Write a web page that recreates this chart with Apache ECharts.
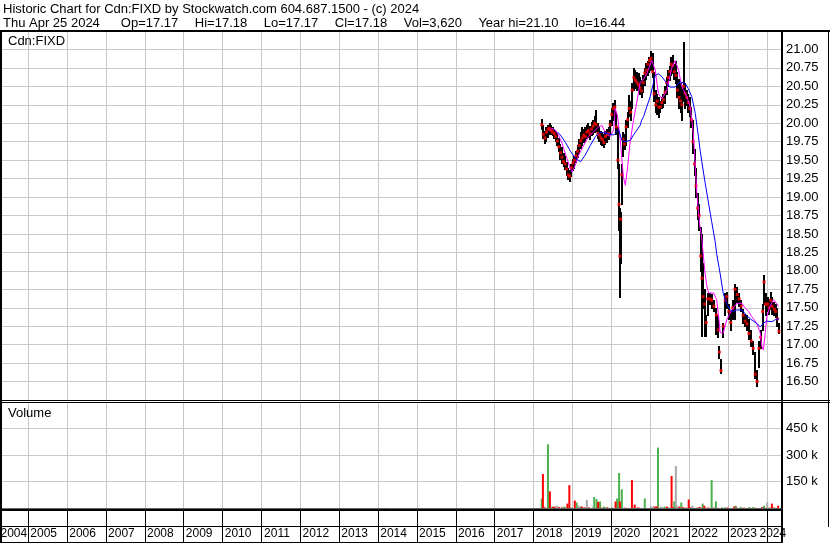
<!DOCTYPE html>
<html><head><meta charset="utf-8">
<script src="https://cdn.jsdelivr.net/npm/echarts@6/dist/echarts.min.js"></script>
<style>html,body{margin:0;padding:0;background:#fff}#c{width:830px;height:543px}</style>
</head><body><div id="c"></div>
<script>
// ---------- DATA ----------
const headerLine1 = 'Historic Chart for Cdn:FIXD by Stockwatch.com 604.687.1500 - (c) 2024';
const headerItems = ['Thu Apr 25 2024', 'Op=17.17', 'Hi=17.18', 'Lo=17.17', 'Cl=17.18', 'Vol=3,620', 'Year hi=21.10', 'lo=16.44'];
const symbolLabel = 'Cdn:FIXD';
const volumeLabel = 'Volume';
const yearLabels = ['2004','2005','2006','2007','2008','2009','2010','2011','2012','2013','2014','2015','2016','2017','2018','2019','2020','2021','2022','2023','2024'];

// price bars (decimal year, high, low, close)
const barYears = [2018.21,2018.25,2018.29,2018.33,2018.37,2018.41,2018.45,2018.49,2018.53,2018.57,2018.61,2018.65,2018.69,2018.73,2018.77,2018.81,2018.85,2018.89,2018.93,2018.97,
2019.01,2019.05,2019.09,2019.13,2019.17,2019.21,2019.25,2019.29,2019.33,2019.37,2019.41,2019.45,2019.49,2019.53,2019.57,2019.61,2019.65,2019.69,2019.73,2019.77,2019.81,2019.85,2019.89,2019.93,2019.97,
2020.01,2020.05,2020.09,2020.13,2020.17,2020.20,2020.22,2020.24,2020.27,2020.30,2020.34,2020.38,2020.42,2020.46,2020.50,2020.54,2020.58,2020.62,2020.66,2020.70,2020.74,2020.78,2020.82,2020.86,2020.90,2020.94,2020.98,
2021.02,2021.06,2021.10,2021.14,2021.18,2021.22,2021.26,2021.30,2021.34,2021.38,2021.42,2021.46,2021.50,2021.54,2021.58,2021.62,2021.66,2021.70,2021.74,2021.78,2021.82,2021.86,2021.90,2021.94,2021.98,
2022.02,2022.06,2022.10,2022.14,2022.18,2022.22,2022.26,2022.30,2022.33,2022.36,2022.40,2022.44,2022.48,2022.54,2022.58,2022.64,2022.70,2022.75,2022.78,2022.82,2022.88,2022.93,2022.97,
2023.02,2023.07,2023.12,2023.18,2023.24,2023.29,2023.34,2023.39,2023.44,2023.49,2023.54,2023.60,2023.65,2023.70,2023.75,2023.80,2023.84,2023.89,2023.93,2023.97,
2024.02,2024.06,2024.10,2024.14,2024.19,2024.23,2024.27,2024.31];
const barHigh = [20.06,19.98,19.90,19.95,19.98,20.00,19.98,19.95,19.92,19.90,19.85,19.80,19.72,19.68,19.60,19.55,19.48,19.40,19.36,19.45,
19.52,19.56,19.62,19.70,19.78,19.88,19.95,19.92,19.95,19.98,20.00,19.96,20.02,20.05,20.10,20.18,20.00,19.95,19.90,19.88,19.86,19.90,19.92,19.95,20.05,
20.20,20.28,20.32,20.15,19.95,19.45,18.85,18.80,19.45,19.88,19.85,20.05,20.15,20.38,20.30,20.55,20.75,20.72,20.70,20.68,20.62,20.58,20.66,20.75,20.82,20.85,20.90,
20.98,20.95,20.70,20.45,20.40,20.35,20.30,20.35,20.40,20.50,20.62,20.72,20.78,20.90,20.92,20.80,20.85,20.70,20.60,20.55,20.50,21.10,20.55,20.45,20.40,
20.35,20.22,20.05,19.65,19.40,19.05,18.90,18.60,18.50,18.10,17.75,17.40,17.70,17.70,17.68,17.60,17.50,17.40,16.98,16.80,17.30,17.70,17.72,
17.55,17.45,17.60,17.82,17.78,17.70,17.60,17.48,17.42,17.40,17.35,17.20,17.05,16.90,16.65,17.05,17.20,17.55,17.95,17.70,
17.65,17.62,17.72,17.65,17.58,17.55,17.50,17.30];
const barLow = [19.92,19.80,19.73,19.76,19.82,19.86,19.85,19.84,19.80,19.76,19.70,19.62,19.52,19.46,19.42,19.38,19.30,19.24,19.22,19.28,
19.36,19.40,19.48,19.54,19.60,19.66,19.70,19.74,19.76,19.80,19.82,19.78,19.84,19.86,19.88,19.90,19.80,19.76,19.72,19.70,19.68,19.72,19.75,19.78,19.85,
19.98,20.05,20.10,19.85,19.40,18.55,17.64,18.10,18.90,19.55,19.65,19.70,19.95,20.10,20.05,20.20,20.45,20.48,20.45,20.42,20.40,20.36,20.42,20.52,20.60,20.65,20.70,
20.72,20.62,20.30,20.15,20.12,20.08,20.15,20.20,20.22,20.28,20.40,20.50,20.58,20.65,20.68,20.60,20.55,20.35,20.20,20.15,20.05,20.30,20.20,20.25,20.15,
20.10,19.95,19.60,19.30,19.00,18.70,18.55,18.00,17.12,17.50,17.12,17.12,17.40,17.55,17.50,17.45,17.15,17.10,16.82,16.62,17.10,17.40,17.50,
17.35,17.20,17.35,17.35,17.58,17.52,17.45,17.30,17.25,17.20,17.08,16.98,16.88,16.55,16.44,16.70,16.95,17.20,17.55,17.40,
17.45,17.42,17.48,17.42,17.40,17.38,17.25,17.16];
const barClose = [19.98,19.85,19.80,19.88,19.92,19.93,19.90,19.88,19.86,19.82,19.76,19.68,19.60,19.54,19.48,19.45,19.38,19.30,19.28,19.40,
19.46,19.50,19.56,19.62,19.70,19.76,19.80,19.84,19.82,19.88,19.90,19.86,19.92,19.96,20.00,19.98,19.86,19.84,19.80,19.78,19.74,19.82,19.85,19.86,19.98,
20.12,20.20,20.22,19.95,19.50,18.90,18.20,18.70,19.30,19.78,19.72,19.95,20.05,20.20,20.15,20.45,20.62,20.58,20.55,20.52,20.48,20.44,20.55,20.68,20.72,20.80,20.85,
20.88,20.70,20.40,20.25,20.30,20.22,20.22,20.28,20.32,20.42,20.55,20.62,20.70,20.80,20.78,20.70,20.65,20.45,20.35,20.30,20.25,20.50,20.40,20.35,20.28,
20.20,20.05,19.75,19.45,19.15,18.85,18.75,18.20,17.90,17.65,17.55,17.30,17.62,17.62,17.60,17.52,17.40,17.20,16.90,16.65,17.25,17.60,17.65,
17.45,17.30,17.50,17.75,17.68,17.62,17.52,17.40,17.32,17.28,17.15,17.05,16.95,16.60,16.50,16.95,17.10,17.45,17.85,17.55,
17.55,17.50,17.60,17.52,17.48,17.45,17.35,17.18];

// short moving average (magenta)
const maShortYears = [2018.40,2018.47,2018.56,2018.64,2018.73,2018.86,2018.94,2018.99,2019.07,2019.16,2019.29,2019.41,2019.54,2019.67,2019.76,2019.84,2019.97,
2020.06,2020.10,2020.16,2020.23,2020.31,2020.36,2020.42,2020.48,2020.57,2020.66,2020.74,2020.83,2020.91,2021.04,2021.13,2021.21,2021.30,2021.43,2021.56,2021.64,2021.73,2021.81,2021.94,
2022.03,2022.11,2022.16,2022.20,2022.24,2022.28,2022.33,2022.37,2022.41,2022.46,2022.50,2022.63,2022.71,2022.76,2022.80,2022.88,2022.97,
2023.06,2023.14,2023.23,2023.36,2023.44,2023.53,2023.61,2023.74,2023.83,2023.87,2023.91,2023.96,2024.00,2024.08,2024.17,2024.30];
const maShortVals = [19.90,19.93,19.91,19.84,19.73,19.52,19.39,19.34,19.43,19.57,19.70,19.82,19.88,19.95,19.97,19.88,19.82,
19.91,20.20,20.10,19.77,19.27,19.16,19.41,19.73,20.04,20.30,20.55,20.60,20.67,20.85,20.72,20.40,20.33,20.45,20.76,20.85,20.72,20.50,20.36,
20.22,19.86,19.41,19.05,18.82,18.60,18.42,18.19,17.97,17.79,17.70,17.70,17.61,17.38,17.16,17.16,17.34,
17.43,17.50,17.56,17.56,17.50,17.45,17.38,17.29,17.16,16.98,16.93,17.16,17.38,17.52,17.61,17.52];

// long moving average (blue)
const maLongYears = [2018.62,2018.69,2018.82,2018.95,2019.08,2019.21,2019.33,2019.46,2019.59,2019.72,2019.89,
2020.06,2020.19,2020.27,2020.36,2020.49,2020.57,2020.66,2020.74,2020.78,2020.83,2020.91,
2021.00,2021.08,2021.13,2021.21,2021.30,2021.43,2021.51,2021.64,2021.77,2021.90,2021.98,
2022.07,2022.16,2022.24,2022.28,2022.33,2022.41,2022.50,2022.58,2022.67,2022.71,2022.80,2022.88,2022.97,
2023.06,2023.14,2023.23,2023.36,2023.49,2023.62,2023.74,2023.83,2023.91,2024.00,2024.13,2024.22,2024.32];
const maLongVals = [19.88,19.84,19.74,19.62,19.52,19.48,19.57,19.70,19.82,19.88,19.86,
19.84,19.91,19.77,19.75,19.77,19.84,19.91,19.97,20.04,20.09,20.22,
20.36,20.54,20.65,20.67,20.63,20.54,20.49,20.49,20.56,20.54,20.47,
20.36,20.13,19.82,19.65,19.47,19.20,18.92,18.67,18.40,18.23,17.96,17.69,17.55,
17.47,17.45,17.47,17.47,17.39,17.33,17.29,17.24,17.29,17.32,17.31,17.34,17.35];

// volume: up days (green), down days (red), unchanged (grey)
const volUpYears = [2018.21,2018.37,2018.48,2018.79,2018.82,2018.96,2019.11,2019.20,2019.56,2019.62,2019.71,2019.81,2019.85,2020.01,2020.15,2020.20,2020.25,2020.27,2020.86,2021.20,
2021.37,2021.62,2021.80,2022.35,2022.58,2022.69,2022.85,2022.93,2023.20,2023.33,2023.55,2023.65,2023.93];
const volUpVals = [54000,360000,8000,8000,3000,3000,31000,8000,62000,50000,37000,8000,4000,4000,54000,198000,15000,106000,54000,342000,
8000,37000,31000,25000,158000,37000,4000,4000,13000,6000,6000,6000,13000];
const volDownYears = [2018.24,2018.29,2018.42,2018.50,2018.54,2018.65,2018.73,2018.87,2018.92,2019.06,2019.24,2019.29,2019.33,2019.42,2019.66,2019.75,2019.90,
2020.11,2020.22,2020.36,2020.53,2020.60,2020.67,2020.72,2021.10,2021.14,2021.17,2021.43,2021.48,2021.55,2021.60,2021.75,2021.85,2021.93,2021.99,
2022.04,2022.18,2022.23,2022.28,2022.39,2022.45,2022.50,2022.63,2022.74,2022.99,2023.16,2023.23,2023.41,2023.72,2023.88,2024.06,2024.13,2024.19,2024.29];
const volDownVals = [192000,4000,94000,6000,8000,5000,4000,25000,129000,42000,8000,2000,3000,4000,35000,2000,4000,
37000,37000,2000,158000,19000,3000,2000,8000,8000,8000,8000,2000,181000,4000,8000,5000,2000,48000,
4000,1000,3000,5000,13000,2000,2000,2000,1000,3000,8000,2000,2000,1000,5000,2000,25000,3000,13000];
const volFlatYears = [2018.60,2019.16,2019.37,2019.53,2021.02,2021.08,2021.27,2021.31,2021.66,2021.70,2022.09,2024.01];
const volFlatVals = [13000,13000,46000,8000,8000,8000,8000,5000,238000,13000,13000,31000];

// ---------- CHART ----------
const F = "'Liberation Sans', Arial, sans-serif";
const GRID_L = -10.7, GRID_R = 48;
const X_MIN = 2004, X_MAX = 2024.39;
const gridGrey = '#c8c8c8';
const pair = (xs, ys) => xs.map((x, i) => [x, ys[i]]);

function xAxisFor(idx, extra) {
  return Object.assign({
    gridIndex: idx, type: 'value', min: X_MIN, max: X_MAX, interval: 1,
    axisLine: {show: false}, axisTick: {show: false}, axisLabel: {show: false},
    splitLine: {show: true, lineStyle: {color: gridGrey, width: 1}}
  }, extra || {});
}
function gridFor(top, height) {
  return {left: GRID_L, right: GRID_R, top: top, height: height, containLabel: false, outerBoundsMode: 'none'};
}
const hdrTxt = {fontFamily: F, fontSize: 13, fontWeight: 'normal', color: '#000', lineHeight: 14};
const headerText = '{h|' + headerLine1 + '}\n' +
  headerItems.map((s, i) => '{' + (i === 0 ? 'h' : (i === 1 ? 'g1' : 'g')) + '|' + s + '}').join('');

const chart = echarts.init(document.getElementById('c'), null, {renderer: 'canvas'});
chart.setOption({
  animation: false,
  backgroundColor: '#fff',
  title: [
    {text: headerText, left: 3, top: 2, padding: 0,
     textStyle: Object.assign({}, hdrTxt, {
       rich: {
         h: Object.assign({}, hdrTxt),
         g1: Object.assign({padding: [0, 0, 0, 21]}, hdrTxt),
         g: Object.assign({padding: [0, 0, 0, 16.5]}, hdrTxt)
       }
     })},
    {text: symbolLabel, left: 8, top: 35, padding: 0,
     textStyle: {fontFamily: F, fontSize: 13, fontWeight: 'normal', color: '#000'}},
    {text: volumeLabel, left: 8, top: 407, padding: 0,
     textStyle: {fontFamily: F, fontSize: 13, fontWeight: 'normal', color: '#000'}}
  ],
  grid: [gridFor(31, 369), gridFor(402, 106), gridFor(510, 32)],
  xAxis: [
    xAxisFor(0),
    xAxisFor(1),
    xAxisFor(2, {
      splitLine: {show: true, lineStyle: {color: '#000', width: 1}},
      axisLine: {show: true, lineStyle: {color: '#000', width: 1}},
      axisLabel: {
        show: true, inside: true, margin: 2, color: '#000', fontFamily: F, fontSize: 12,
        showMinLabel: true, showMaxLabel: true, hideOverlap: false,
        formatter: function (v) {
          const r = Math.round(v);
          if (Math.abs(v - r) > 1e-6) return '';
          const s = yearLabels[r - 2004];
          if (s === undefined) return '';
          if (r === 2004) return '{f|' + s + '}';
          if (r === 2024) return '{l|' + s + '}';
          return '{n|' + s + '}';
        },
        rich: {
          n: {fontFamily: F, fontSize: 12, color: '#000', padding: [0, 0, 0, 31]},
          f: {fontFamily: F, fontSize: 12, color: '#000', padding: [0, 0, 0, 49]},
          l: {fontFamily: F, fontSize: 12, color: '#000', padding: [0, 0, 0, 12]}
        }
      }
    })
  ],
  yAxis: [
    {gridIndex: 0, type: 'value', position: 'right', min: 16.25, max: 21.25, interval: 0.25,
     axisLine: {show: true, lineStyle: {color: '#000', width: 2}}, axisTick: {show: false},
     splitLine: {show: true, lineStyle: {color: gridGrey, width: 1}},
     axisLabel: {margin: 4, color: '#000', fontFamily: F, fontSize: 13, showMinLabel: false, showMaxLabel: false,
                 formatter: v => v.toFixed(2)}},
    {gridIndex: 1, type: 'value', position: 'right', min: 0, max: 600000, interval: 150000,
     axisLine: {show: true, lineStyle: {color: '#000', width: 2}}, axisTick: {show: false},
     splitLine: {show: true, lineStyle: {color: gridGrey, width: 1}},
     axisLabel: {margin: 4, color: '#000', fontFamily: F, fontSize: 13, showMinLabel: false, showMaxLabel: false,
                 formatter: v => (v / 1000) + ' k'}},
    {gridIndex: 2, type: 'value', position: 'right', min: 0, max: 2, interval: 1,
     axisLine: {show: true, lineStyle: {color: '#000', width: 2}}, axisTick: {show: false},
     axisLabel: {show: false},
     splitLine: {show: true, lineStyle: {color: '#000', width: 1}}}
  ],
  graphic: [
    {type: 'line', silent: true, z: 100, shape: {x1: 0, y1: 31, x2: 830, y2: 31}, style: {stroke: '#000', lineWidth: 2}},
    {type: 'line', silent: true, z: 100, shape: {x1: 1, y1: 30, x2: 1, y2: 543}, style: {stroke: '#000', lineWidth: 2}},
    {type: 'line', silent: true, z: 100, shape: {x1: 828.5, y1: 30, x2: 828.5, y2: 527}, style: {stroke: '#000', lineWidth: 1}},
    {type: 'line', silent: true, z: 100, shape: {x1: 0, y1: 400.5, x2: 830, y2: 400.5}, style: {stroke: '#000', lineWidth: 1}},
    {type: 'line', silent: true, z: 100, shape: {x1: 0, y1: 402.5, x2: 830, y2: 402.5}, style: {stroke: '#000', lineWidth: 1}},
    {type: 'line', silent: true, z: 100, shape: {x1: 0, y1: 509.5, x2: 783, y2: 509.5}, style: {stroke: '#000', lineWidth: 2}}
  ],
  series: [
    {
      type: 'custom', xAxisIndex: 0, yAxisIndex: 0, z: 2,
      data: barYears.map((t, i) => [t, barHigh[i], barLow[i]]),
      encode: {x: 0, y: [1, 2]},
      renderItem: function (params, api) {
        const t = api.value(0);
        const hi = api.coord([t, api.value(1)]);
        const lo = api.coord([t, api.value(2)]);
        const x = Math.round(hi[0]);
        return {type: 'line', shape: {x1: x, y1: Math.round(hi[1]), x2: x, y2: Math.round(lo[1]) + 1},
                style: {stroke: '#000', lineWidth: 2}};
      }
    },
    {
      type: 'scatter', xAxisIndex: 0, yAxisIndex: 0, z: 3,
      data: pair(barYears, barClose), symbol: 'rect', symbolSize: 3,
      itemStyle: {color: '#ff0000'}
    },
    {
      type: 'line', xAxisIndex: 0, yAxisIndex: 0, z: 4, data: pair(maShortYears, maShortVals),
      showSymbol: false, symbol: 'none', lineStyle: {color: '#ff00ff', width: 1}
    },
    {
      type: 'line', xAxisIndex: 0, yAxisIndex: 0, z: 5, data: pair(maLongYears, maLongVals),
      showSymbol: false, symbol: 'none', lineStyle: {color: '#0000ff', width: 1}
    },
    {type: 'bar', xAxisIndex: 1, yAxisIndex: 1, data: pair(volUpYears, volUpVals), barWidth: 2, barGap: '-100%',
     itemStyle: {color: '#4cb04c'}},
    {type: 'bar', xAxisIndex: 1, yAxisIndex: 1, data: pair(volDownYears, volDownVals), barWidth: 2, barGap: '-100%',
     itemStyle: {color: '#ff0000'}},
    {type: 'bar', xAxisIndex: 1, yAxisIndex: 1, data: pair(volFlatYears, volFlatVals), barWidth: 2, barGap: '-100%',
     itemStyle: {color: '#a8a8a8'}}
  ]
});
</script>
</body></html>
